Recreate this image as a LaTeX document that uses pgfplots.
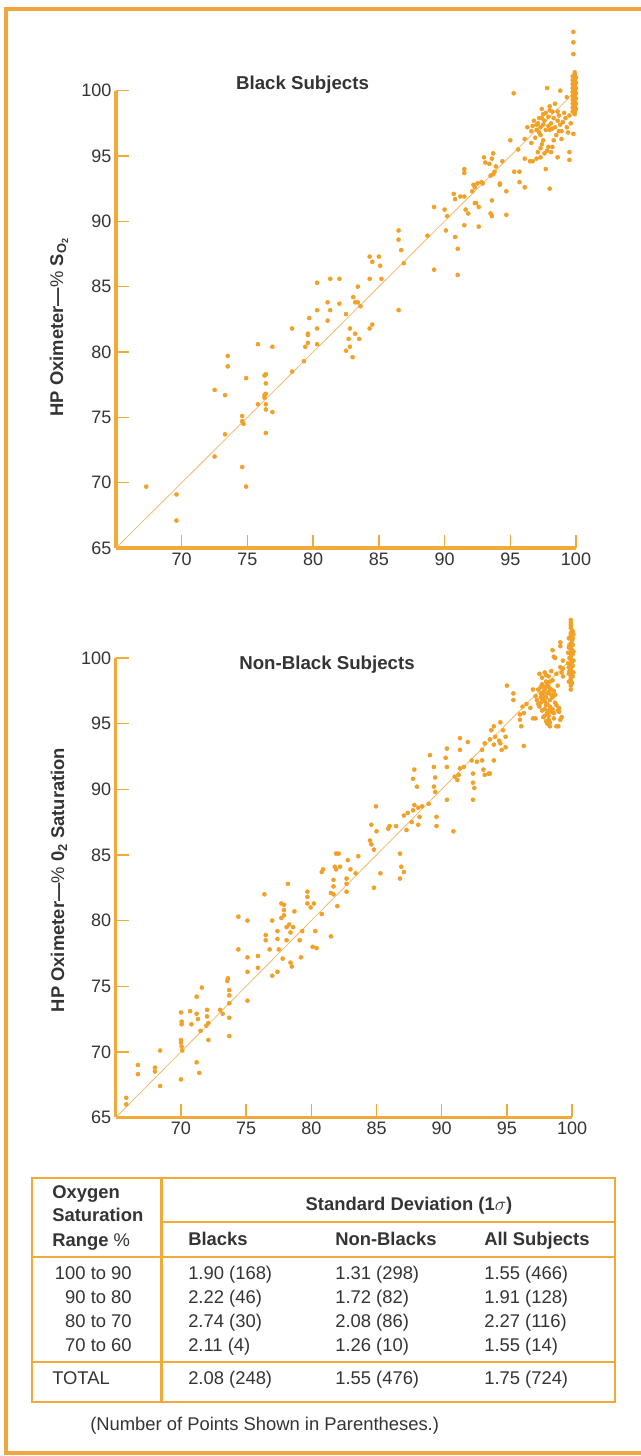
\documentclass[border=0pt]{standalone}
\usepackage{fontspec}
\setmainfont{Liberation Sans}
\usepackage{pgfplots}
\pgfplotsset{compat=1.18}
\definecolor{axorange}{RGB}{240,170,58}
\definecolor{ptorange}{RGB}{243,160,38}
\definecolor{lnorange}{RGB}{242,185,110}
\definecolor{frameorange}{RGB}{240,165,65}
\definecolor{txt}{RGB}{52,52,52}
\pgfplotsset{
  oxstyle/.style={
    scale only axis,
    xmin=65, xmax=100, ymin=65, ymax=100,
    axis lines=left,
    axis line style={-, line width=2.3pt, draw=axorange},
    xtick={70,75,...,100}, ytick={65,70,...,100},
    tick align=inside, major tick length=10pt,
    tick style={line width=1pt, draw=axorange},
    ticklabel style={font=\fontsize{13.5}{16}\selectfont, text=txt},
    /pgf/number format/assume math mode=true,
    clip=false,
  },
  pts/.style={only marks, mark=*, mark size=1.5pt, color=ptorange, mark options={draw=none, fill=ptorange}},
  diag/.style={no marks, line width=0.6pt, color=lnorange},
}
\begin{document}
\begin{tikzpicture}
\begin{scope}[x=0.75pt,y=-0.75pt]
\useasboundingbox (0,0) rectangle (641,1456);
\fill[white] (0,0) rectangle (641,1456);
\draw[line width=3pt, frameorange] (5.5,8.5) rectangle (660,1452.5);
\end{scope}

% ---------- Black subjects ----------
\begin{axis}[oxstyle, at={(87pt,-411pt)}, anchor=south west, width=345pt, height=343pt]
\addplot[diag] coordinates {(65,65) (100,100)};
\addplot[pts] coordinates {
(67.3,69.7) (69.6,69.1) (69.6,67.1) (72.5,72.0) (73.3,73.7) (72.5,77.1) (73.3,76.7)
(73.5,79.7) (73.5,78.9) (74.6,71.2) (74.9,69.7) (74.6,75.1) (74.6,74.7) (74.7,74.5)
(74.9,78.0) (75.8,80.6) (76.9,80.4) (75.8,76.0) (76.3,78.2) (76.4,78.3) (76.4,77.6)
(76.3,76.7) (76.4,76.8) (76.3,76.5) (76.4,76.0) (76.4,75.6) (76.9,75.4) (76.4,73.8)
(78.4,78.5) (78.4,81.8) (79.3,79.3) (79.4,80.4) (79.6,80.7) (79.6,81.3) (79.6,81.4)
(79.7,82.6) (80.3,80.6) (80.3,81.8) (80.3,83.2) (80.3,85.3) (81.1,82.4) (81.1,83.8)
(81.3,83.2) (81.3,85.6) (82.0,85.6) (82.0,83.7)
(83.4,85.0) (83.05,84.2) (83.2,83.8) (83.4,83.8) (83.6,83.5) (82.5,82.9) (82.8,81.8)
(83.2,81.4) (83.5,81.0) (82.7,81.0) (82.5,80.1) (83.0,79.6) (82.8,80.4) (84.5,82.1)
(84.3,81.8) (84.3,85.6) (85.2,85.6) (84.3,87.3) (85.0,87.3) (85.1,86.6) (84.5,86.9)
(86.5,89.3) (86.5,88.6) (86.7,87.8) (86.9,86.8) (86.5,83.2) (88.7,88.9) (89.2,86.3)
(89.2,91.1) (90.0,90.9) (90.1,89.3) (90.8,91.7) (90.8,88.8) (91.0,87.9) (91.0,85.9)
(91.5,91.9) (91.5,89.7) (91.8,90.6) (91.5,93.7) (92.2,92.8) (92.3,91.4) (92.6,91.1)
(92.6,89.6) (92.9,92.9) (93.1,94.5) (93.6,94.8) (93.7,93.6) (93.6,91.6) (93.6,90.4)
(94.2,92.8)
(95.26,99.8) (97.8,100.2) (98.0,98.8) (97.4,98.6) (98.4,99.0) (98.8,100.0) (99.3,99.5)
(96.8,97.7) (97.1,97.5) (97.3,97.2) (97.6,97.7) (97.9,98.0) (98.1,97.5) (98.4,97.2)
(98.6,97.7) (97.0,97.0) (97.7,97.0) (98.5,96.6) (98.9,96.9) (99.3,97.2) (99.6,97.5)
(99.8,96.7) (96.3,97.2) (96.6,96.9) (97.3,96.6) (97.3,95.6) (97.1,95.3) (97.6,95.2)
(97.0,94.8) (97.9,95.7) (98.1,95.3) (98.2,95.7) (96.5,94.6) (96.1,94.8) (96.7,94.6)
(99.5,95.3) (99.5,94.7) (98.9,96.3) (98.6,94.9) (97.7,94.0) (98.0,92.5) (95.0,96.2)
(96.1,96.3) (96.6,96.0) (95.6,95.5) (95.3,93.8) (95.7,93.8) (96.1,92.6) (95.7,93.0)
(94.7,92.3) (94.2,92.9) (93.7,95.2) (93.0,94.9) (93.4,94.4) (93.8,93.8) (93.5,93.5)
(93.9,94.2) (94.4,94.6) (92.5,92.9) (92.8,93.0) (92.3,92.6) (92.1,92.3) (92.4,91.4)
(91.5,94.0) (91.2,91.9) (90.7,92.1) (91.6,90.9) (93.5,90.6) (94.7,90.5) (90.2,90.4)
(97.5,98.2) (98.2,98.4) (98.7,98.1) (97.2,97.9) (98.0,97.0) (98.3,96.2) (99.0,97.6)
(99.1,98.3) (96.9,96.4) (97.5,96.2)
(97.4,97.9) (97.7,98.3) (98.0,98.5) (98.3,97.9) (98.6,98.4) (98.8,97.4) (97.9,97.3)
(97.5,97.4) (98.2,97.1) (97.0,97.4) (96.7,97.3) (97.2,96.8) (98.7,96.9) (99.2,97.9)
(99.5,98.1) (99.4,96.8) (97.4,95.9) (97.8,95.4) (97.3,94.9)
(99.8,104.5) (99.8,103.7) (99.8,102.8)
(99.9,101.4) (99.9,101.2) (99.9,101.0) (99.9,100.8) (99.9,100.6) (99.9,100.4) (99.9,100.2)
(99.9,100.0) (99.9,99.8) (99.9,99.6) (99.9,99.4) (99.9,99.2) (99.9,99.0) (99.9,98.8)
(99.9,98.6) (99.9,98.4) (99.9,98.2)
(99.75,101.1) (99.75,100.8) (99.75,100.5) (99.75,100.2) (99.75,99.9) (99.75,99.6)
(99.75,99.3) (99.75,99.0) (99.75,98.7) (99.75,98.4)
(100.0,101.0) (100.0,100.6) (100.0,100.2) (100.0,99.8) (100.0,99.4) (100.0,99.0) (100.0,98.6)
};
\end{axis}

% ---------- Non-Black subjects ----------
\begin{axis}[oxstyle, at={(86.85pt,-838.1pt)}, anchor=south west, width=342.2pt, height=344.6pt]
\addplot[diag] coordinates {(65,65) (100,100)};
\addplot[pts] coordinates {
(65.8,66.5) (65.8,66.0) (66.7,69.0) (66.7,68.3) (68.0,68.8) (68.0,68.5) (68.4,70.1)
(68.4,67.4) (70.0,67.9) (70.0,73.0) (70.05,72.3) (70.05,72.1) (70.0,70.9) (70.05,70.4)
(70.1,70.1) (70.0,70.7) (70.7,73.1) (70.8,72.1) (71.2,74.2) (71.2,72.9) (71.3,72.5)
(71.6,74.9) (71.2,69.2) (71.4,68.4) (72.0,73.2) (72.0,72.7) (72.1,72.2) (71.95,72.0)
(71.5,71.6) (72.1,70.9) (73.0,73.2) (73.2,72.9) (73.6,75.6) (73.55,75.4) (73.7,74.7)
(73.7,74.3) (73.7,73.7) (73.7,72.6) (73.7,71.2) (75.1,73.9) (74.4,77.8) (74.4,80.3)
(75.1,80.0) (75.1,77.2) (75.1,76.1) (75.9,77.3) (75.9,76.4) (76.4,82.0) (76.5,78.9)
(76.5,78.5) (77.0,80.0) (76.8,77.8) (77.0,75.8) (77.4,78.6) (77.4,79.2) (77.7,80.2)
(77.9,80.8) (77.9,80.4) (77.9,81.2) (77.7,81.3) (78.2,82.8) (78.1,79.5) (78.3,79.7)
(78.4,79.1) (78.6,79.5) (78.1,78.5) (77.5,77.8) (78.4,76.8) (78.5,76.5) (77.4,76.1)
(77.8,77.1) (78.7,80.7) (79.1,78.5) (79.2,77.2) (79.3,79.2) (79.7,82.2) (79.7,81.8)
(79.7,81.3) (79.95,81.0) (80.2,81.3) (80.3,79.2) (80.1,78.0) (80.4,77.9) (80.8,80.5)
(80.8,83.7) (81.5,78.8) (81.5,82.1) (81.7,82.0) (81.8,84.1) (81.9,83.9) (82.0,81.1)
(82.1,85.1) (82.7,82.8) (82.7,82.2)
(80.9,83.9) (81.7,83.1) (81.7,82.6) (81.9,85.1) (82.2,84.1) (82.8,84.6) (83.0,83.9)
(82.7,83.2) (83.6,84.9) (83.4,83.6) (84.8,82.5) (85.3,83.6) (84.5,86.1) (84.6,85.8)
(84.8,85.4) (84.6,87.3) (85.0,86.8) (84.96,88.7) (85.9,87.0) (86.0,87.2) (86.5,87.2)
(86.8,85.1) (86.9,84.1) (87.1,83.7) (86.8,83.2) (87.1,88.0) (87.4,88.2) (87.8,88.4)
(87.9,88.8) (88.2,88.6) (88.5,88.7) (87.7,87.5) (88.3,87.9) (87.3,86.9) (88.2,87.3)
(89.0,88.9) (89.6,87.9) (89.6,87.2) (90.9,86.8) (90.4,89.2) (90.4,91.7) (87.9,91.5)
(87.8,90.8) (88.1,90.2) (89.4,91.7) (89.5,90.9) (89.4,90.2) (89.5,89.8) (89.1,92.6)
(90.3,92.4) (90.4,93.1) (91.0,90.96) (91.2,90.7) (91.3,91.1) (91.4,91.6) (91.7,91.7)
(91.4,93.9) (91.4,93.0) (92.0,93.6) (92.4,91.2) (92.4,90.5) (92.5,90.1) (92.4,89.2)
(92.3,92.2) (92.7,92.1) (93.1,92.2) (93.2,91.5) (93.3,91.1) (93.7,91.2) (93.1,93.0)
(93.3,93.5) (93.7,93.8) (94.0,93.4) (93.8,94.5) (94.1,94.0) (94.5,95.1) (94.5,93.5)
(94.6,93.0) (94.7,94.5) (94.9,94.0) (95.0,97.9) (95.5,97.3) (95.5,96.8) (96.3,93.3)
(96.0,95.3) (96.1,94.8) (96.0,95.7) (96.5,96.5) (96.8,96.2) (97.0,95.4) (97.0,97.6)
(94.4,93.7) (94.9,93.2) (94.0,94.8) (93.6,91.2) (94.0,92.2)
(97.5,98.8) (97.9,98.9) (98.2,98.6) (98.5,98.3) (98.0,98.2) (97.7,98.0) (97.4,97.6)
(97.8,97.4) (98.2,97.8) (98.6,97.5) (98.9,97.9) (98.0,97.0) (98.3,96.8) (97.6,96.6)
(97.5,96.3) (97.9,96.1) (98.3,96.3) (98.7,96.6) (99.0,96.2) (99.0,95.9) (98.2,95.6)
(98.0,95.2) (98.1,95.0) (97.8,95.5) (98.6,95.8) (98.4,97.2) (97.2,97.1) (97.3,96.8)
(98.8,98.8) (98.4,99.0) (99.1,99.3) (99.2,98.9) (99.1,101.2) (98.5,100.6) (98.7,100.0)
(98.6,100.1) (99.1,100.9) (99.3,99.8) (99.3,99.2) (99.3,98.6) (98.3,94.8) (98.8,94.8)
(99.1,95.3) (99.2,95.5) (98.95,94.8) (96.2,96.3) (96.3,95.8) (97.2,95.4)
(97.9,97.8) (98.1,98.0) (97.6,97.3) (98.4,97.6) (97.9,96.7) (98.1,96.5)
(97.7,98.5) (98.0,98.7) (98.3,98.2) (97.6,97.8) (97.8,97.1) (98.1,97.3) (98.3,97.6)
(97.7,96.9) (98.0,96.4) (98.2,96.0) (97.7,96.0) (98.4,95.9) (98.1,95.8) (97.9,95.6)
(98.5,96.1) (98.8,96.4) (98.9,96.0) (98.2,95.3) (98.3,95.1) (98.6,95.4) (97.6,97.0)
(97.4,96.5) (97.9,97.6) (98.2,97.4) (98.5,97.0) (98.7,97.2)
(99.9,102.9) (99.9,102.5) (100.0,102.1) (99.9,101.7) (100.0,101.3) (99.9,100.9)
(100.1,100.5) (99.9,100.1) (100.0,99.7) (99.9,99.3) (100.1,98.9) (99.9,98.5)
(100.0,98.1) (99.9,97.6) (99.8,101.0) (99.8,100.0) (99.8,99.0) (100.1,101.8)
(100.1,99.8) (100.0,100.6) (99.7,100.4) (99.7,99.6)
(99.9,102.7) (99.9,102.3) (99.9,101.9) (99.9,101.5) (99.9,101.1) (99.9,100.7) (99.9,100.3)
(99.9,99.9) (99.9,99.5) (99.9,99.1) (99.9,98.7) (99.9,98.3) (99.9,97.9)
(100.05,102.0) (100.05,101.5) (100.05,101.0) (100.05,100.3) (100.05,99.4) (100.05,98.6)
(99.75,101.5) (99.75,100.8) (99.75,99.3) (99.75,98.8) (99.75,98.2)
};
\end{axis}

\begin{scope}[x=0.75pt,y=-0.75pt, every node/.style={text=txt, inner sep=0pt}]
\def\fs{\fontsize{13.8}{16}\selectfont}
% titles and axis labels
\node[anchor=base, font=\fontsize{14}{16}\selectfont\bfseries] at (302.5,89) {Black Subjects};
\node[anchor=base, font=\fontsize{14}{16}\selectfont\bfseries] at (327,669) {Non-Black Subjects};
\node[rotate=90, font=\fontsize{13.8}{16}\selectfont\bfseries] at (59,327) {HP Oximeter\textemdash{\mdseries\%} S\textsubscript{O\textsubscript{2}}};
\node[rotate=90, font=\fontsize{13.8}{16}\selectfont\bfseries] at (59,880) {HP Oximeter\textemdash{\mdseries\%} 0\textsubscript{2} Saturation};
% table
\draw[axorange, line width=2pt] (32,1178) rectangle (615,1402);
\draw[axorange, line width=2pt] (161.5,1178) -- (161.5,1402);
\draw[axorange, line width=2pt] (161.5,1222) -- (615,1222);
\draw[axorange, line width=2pt] (32,1257) -- (615,1257);
\draw[axorange, line width=2pt] (32,1362) -- (615,1362);
\begin{scope}[every node/.append style={font=\fs}]
\node[anchor=base west, font=\fs\bfseries] at (52,1198) {Oxygen};
\node[anchor=base west, font=\fs\bfseries] at (52,1221) {Saturation};
\node[anchor=base west, font=\fs\bfseries] at (52,1246) {Range {\mdseries\%}};
\node[anchor=base, font=\fs\bfseries] at (409,1210) {Standard Deviation (1$\sigma$)};
\node[anchor=base west, font=\fs\bfseries] at (188,1245) {Blacks};
\node[anchor=base west, font=\fs\bfseries] at (335,1245) {Non-Blacks};
\node[anchor=base west, font=\fs\bfseries] at (484,1245) {All Subjects};
\node[anchor=base east] at (132,1279) {100 to 90};
\node[anchor=base east] at (132,1303) {90 to 80};
\node[anchor=base east] at (132,1327) {80 to 70};
\node[anchor=base east] at (132,1351) {70 to 60};
\node[anchor=base west] at (52,1384) {TOTAL};
\node[anchor=base west] at (188,1279) {1.90 (168)};
\node[anchor=base west] at (188,1303) {2.22 (46)};
\node[anchor=base west] at (188,1327) {2.74 (30)};
\node[anchor=base west] at (188,1351) {2.11 (4)};
\node[anchor=base west] at (188,1384) {2.08 (248)};
\node[anchor=base west] at (335,1279) {1.31 (298)};
\node[anchor=base west] at (335,1303) {1.72 (82)};
\node[anchor=base west] at (335,1327) {2.08 (86)};
\node[anchor=base west] at (335,1351) {1.26 (10)};
\node[anchor=base west] at (335,1384) {1.55 (476)};
\node[anchor=base west] at (484,1279) {1.55 (466)};
\node[anchor=base west] at (484,1303) {1.91 (128)};
\node[anchor=base west] at (484,1327) {2.27 (116)};
\node[anchor=base west] at (484,1351) {1.55 (14)};
\node[anchor=base west] at (484,1384) {1.75 (724)};
\node[anchor=base west] at (90,1430) {(Number of Points Shown in Parentheses.)};
\end{scope}
\end{scope}
\end{tikzpicture}
\end{document}
